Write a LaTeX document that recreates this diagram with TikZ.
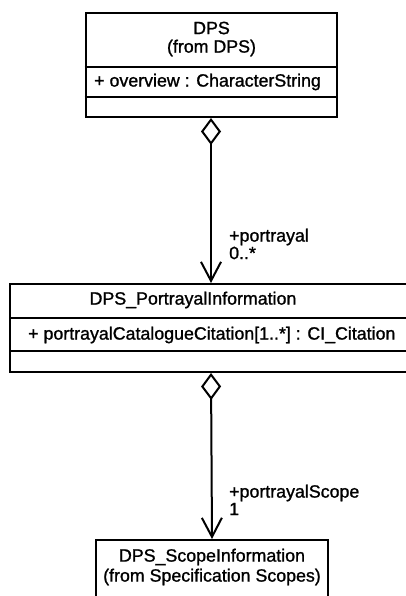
\documentclass[tikz,border=0pt]{standalone}
\usepackage{fontspec}
\setmainfont[FakeBold=1.2]{Liberation Sans}
\usetikzlibrary{arrows.meta}

\tikzset{
  classbox/.style={draw,line width=2pt,rectangle,inner sep=0pt},
  umltext/.style={inner sep=0pt,font=\fontsize{17.8}{20}\selectfont},
  aggr/.style={line width=2pt,
    {Diamond[open,length=27pt,width=20pt,line width=2pt]}-{Straight Barb[length=19pt,width=20pt,line width=2pt]}}
}

\begin{document}
\begin{tikzpicture}[x=1pt,y=-1pt]
      \useasboundingbox (0,0) rectangle (405,596);
      % DPS
      \node[classbox,minimum width=251pt,minimum height=104pt] (dps) at (211,65) {};
      \draw[line width=2pt] (dps.west |- 0,67) -- (dps.east |- 0,67);
      \draw[line width=2pt] (dps.west |- 0,97) -- (dps.east |- 0,97);
      \node[umltext] (dpsname) at (211.5,28) {DPS};
      \node[umltext] (dpsfrom) at (211.5,48) {(from DPS)};
      \node[umltext,anchor=west] (dpsattr) at (94,82) {+ overview : CharacterString};
      % DPS_PortrayalInformation
      \node[classbox,minimum width=402pt,minimum height=88pt] (info) at (211,328) {};
      \draw[line width=2pt] (info.west |- 0,318) -- (info.east |- 0,318);
      \draw[line width=2pt] (info.west |- 0,351) -- (info.east |- 0,351);
      \node[umltext] (infoname) at (193,300) {DPS\_PortrayalInformation};
      \node[umltext,anchor=west] (infoattr) at (28,335) {+ portrayalCatalogueCitation[1..*] : CI\_Citation};
      % DPS_ScopeInformation
      \node[classbox,minimum width=232pt,minimum height=65pt] (scope) at (212,572.5) {};
      \node[umltext] (scopename) at (212,557) {DPS\_ScopeInformation};
      \node[umltext] (scopefrom) at (212,577) {(from Specification Scopes)};
      % associations
      \draw[aggr] (dps.south) -- (info.north);
      \node[umltext,anchor=west] (rolea) at (229,237) {+portrayal};
      \node[umltext,anchor=west] (multa) at (229,253) {0..*};
      \draw[aggr] (info.south) -- (scope.north);
      \node[umltext,anchor=west] (roleb) at (229,493) {+portrayalScope};
      \node[umltext,anchor=west] (multb) at (229,509) {1};
    \end{tikzpicture}
\end{document}
